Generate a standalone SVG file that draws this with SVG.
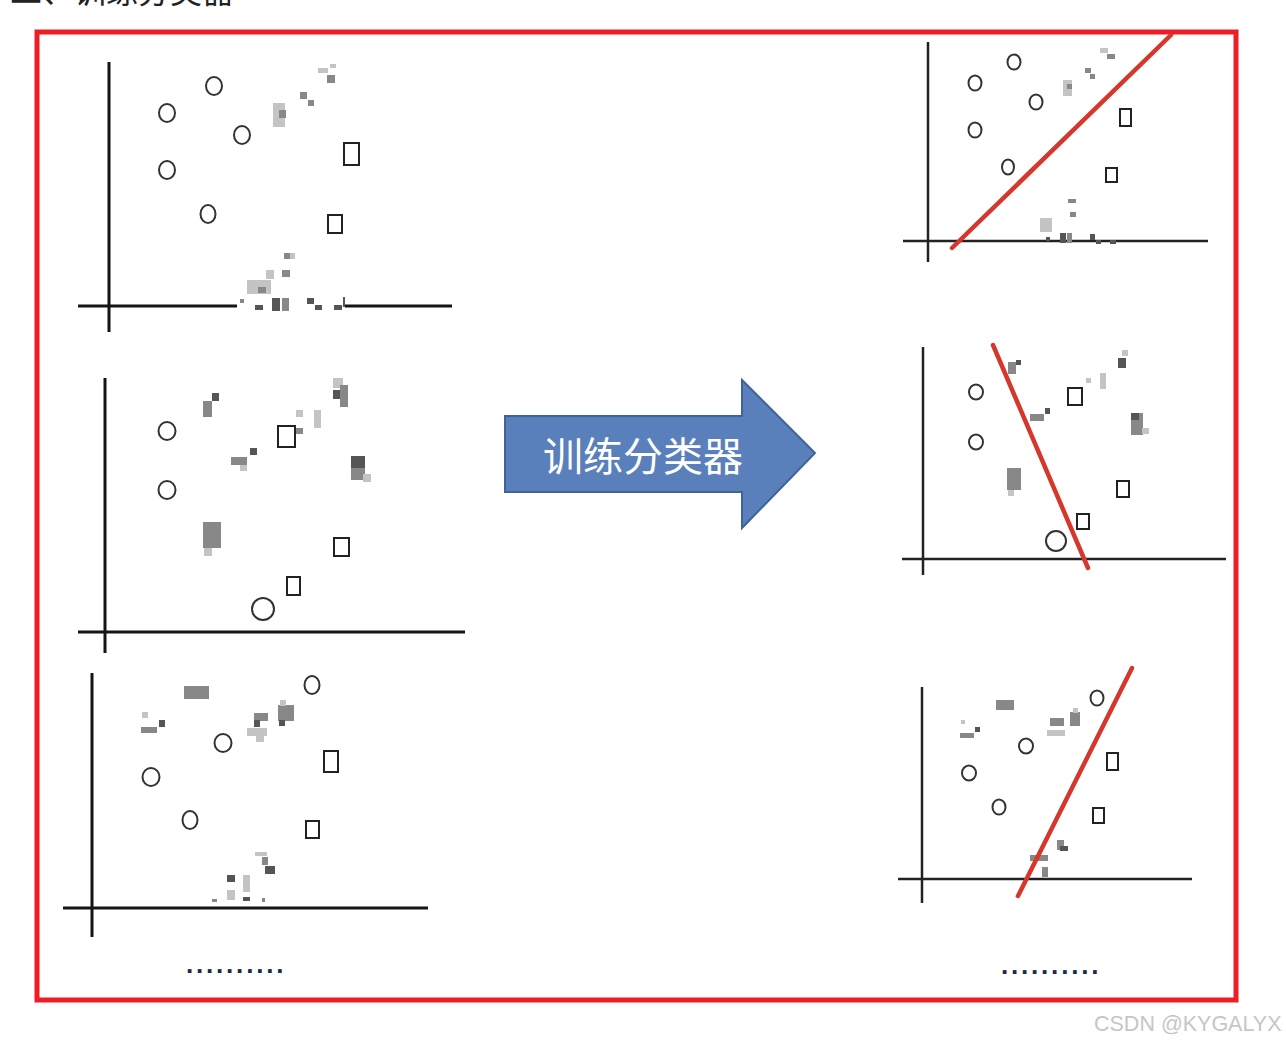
<svg xmlns="http://www.w3.org/2000/svg" width="1286" height="1044" viewBox="0 0 1286 1044">
<style>
.ax{stroke:#151515;stroke-width:3;fill:none}
.axr{stroke:#222;stroke-width:2.5;fill:none}
.c{fill:none;stroke:#333;stroke-width:2}
.s{fill:none;stroke:#222;stroke-width:2}
.d{fill:#555}
.m{fill:#888}
.l{fill:#c4c4c4}
.rl{stroke:#d6372c;stroke-width:4.5;stroke-linecap:round;fill:none}
.dots{font-family:"Liberation Sans",sans-serif;font-size:26px;font-weight:bold;fill:#1c2a4a;letter-spacing:2.8px}
</style>
<rect width="1286" height="1044" fill="#fff"/>
<text x="10" y="3" font-family="'Noto Sans CJK SC',sans-serif" font-size="32" fill="#222">二、训练分类器</text>
<rect id="frame" x="37" y="32" width="1199" height="968" fill="none" stroke="#ee1c25" stroke-width="5"/>

<g id="plot1">
<line class="ax" x1="109" y1="62" x2="109" y2="332"/>
<line class="ax" x1="78" y1="306" x2="237" y2="306"/>
<line class="ax" x1="345" y1="306" x2="452" y2="306"/>
<ellipse class="c" cx="167" cy="113" rx="8" ry="9"/>
<ellipse class="c" cx="214" cy="86" rx="8" ry="9"/>
<ellipse class="c" cx="242" cy="135" rx="8" ry="9"/>
<ellipse class="c" cx="167" cy="170" rx="8" ry="9"/>
<ellipse class="c" cx="208" cy="214" rx="7.5" ry="9"/>
<rect class="s" x="344" y="143" width="15" height="22"/>
<rect class="s" x="328" y="215" width="14" height="18"/>
<rect class="l" x="273" y="103" width="12" height="24"/>
<rect class="m" x="279" y="110" width="7" height="8"/>
<rect class="m" x="300" y="92" width="7" height="7"/>
<rect class="m" x="308" y="100" width="6" height="6"/>
<rect class="l" x="318" y="68" width="10" height="5"/>
<rect class="m" x="327" y="75" width="8" height="8"/>
<rect class="l" x="330" y="64" width="6" height="4"/>
<rect class="m" x="284" y="253" width="8" height="6"/>
<rect class="l" x="290" y="253" width="5" height="6"/>
<rect class="m" x="282" y="270" width="8" height="7"/>
<rect class="l" x="266" y="270" width="8" height="9"/>
<rect class="l" x="247" y="280" width="24" height="14"/>
<rect class="m" x="258" y="287" width="8" height="6"/>
<rect class="m" x="240" y="299" width="4" height="4"/>
<rect class="d" x="255" y="305" width="8" height="5"/>
<rect class="d" x="272" y="298" width="8" height="13"/>
<rect class="m" x="282" y="298" width="7" height="13"/>
<rect class="d" x="307" y="298" width="7" height="6"/>
<rect class="d" x="315" y="305" width="7" height="5"/>
<rect class="d" x="334" y="305" width="8" height="5"/>
<rect class="d" x="343" y="297" width="2" height="10"/>
</g>

<g id="plot2">
<line class="ax" x1="105" y1="378" x2="105" y2="653"/>
<line class="ax" x1="78" y1="632" x2="465" y2="632"/>
<ellipse class="c" cx="167" cy="431" rx="8.5" ry="9"/>
<ellipse class="c" cx="167" cy="490" rx="8.5" ry="9"/>
<circle class="c" cx="263" cy="609" r="11"/>
<rect class="s" x="278" y="426" width="17" height="21"/>
<rect class="s" x="334" y="538" width="15" height="18"/>
<rect class="s" x="287" y="577" width="13" height="18"/>
<rect class="m" x="203" y="401" width="9" height="16"/>
<rect class="d" x="212" y="393" width="7" height="8"/>
<rect class="m" x="231" y="457" width="16" height="8"/>
<rect class="l" x="240" y="465" width="7" height="6"/>
<rect class="d" x="250" y="448" width="7" height="7"/>
<rect class="l" x="296" y="410" width="7" height="7"/>
<rect class="m" x="296" y="428" width="7" height="6"/>
<rect class="l" x="314" y="410" width="7" height="18"/>
<rect class="l" x="333" y="378" width="10" height="10"/>
<rect class="d" x="333" y="390" width="10" height="9"/>
<rect class="m" x="340" y="385" width="8" height="22"/>
<rect class="d" x="351" y="456" width="14" height="12"/>
<rect class="m" x="351" y="468" width="14" height="12"/>
<rect class="l" x="363" y="474" width="8" height="8"/>
<rect class="m" x="203" y="522" width="18" height="26"/>
<rect class="l" x="204" y="548" width="8" height="8"/>
</g>

<g id="plot3">
<line class="ax" x1="92" y1="673" x2="92" y2="937"/>
<line class="ax" x1="63" y1="908" x2="428" y2="908"/>
<ellipse class="c" cx="312" cy="685" rx="7.5" ry="9"/>
<ellipse class="c" cx="223" cy="743" rx="8.5" ry="9"/>
<ellipse class="c" cx="151" cy="777" rx="8.5" ry="9"/>
<ellipse class="c" cx="190" cy="820" rx="7.5" ry="9"/>
<rect class="s" x="324" y="751" width="14" height="21"/>
<rect class="s" x="306" y="821" width="13" height="17"/>
<rect class="m" x="184" y="686" width="25" height="13"/>
<rect class="l" x="142" y="712" width="6" height="6"/>
<rect class="m" x="141" y="727" width="16" height="6"/>
<rect class="d" x="159" y="720" width="6" height="7"/>
<rect class="m" x="254" y="713" width="14" height="8"/>
<rect class="d" x="254" y="720" width="6" height="7"/>
<rect class="l" x="247" y="728" width="20" height="8"/>
<rect class="l" x="256" y="736" width="8" height="6"/>
<rect class="m" x="278" y="705" width="16" height="16"/>
<rect class="l" x="280" y="700" width="6" height="6"/>
<rect class="d" x="279" y="720" width="6" height="6"/>
<rect class="l" x="255" y="852" width="12" height="4"/>
<rect class="m" x="262" y="857" width="6" height="8"/>
<rect class="d" x="265" y="866" width="10" height="8"/>
<rect class="d" x="227" y="875" width="8" height="7"/>
<rect class="l" x="227" y="890" width="8" height="10"/>
<rect class="l" x="243" y="875" width="7" height="17"/>
<rect class="d" x="243" y="897" width="7" height="4"/>
<rect class="m" x="212" y="899" width="5" height="3"/>
<rect class="m" x="262" y="898" width="3" height="4"/>
<text class="dots" x="186" y="973">..........</text>
</g>

<g id="arrow">
<polygon points="505,416 742,416 742,380 815,453 742,528 742,492 505,492" fill="#5a80bb" stroke="#3f639a" stroke-width="2"/>
<text x="543" y="471" font-family="'Noto Sans CJK SC',sans-serif" font-size="40" fill="#ffffff">训练分类器</text>
</g>

<g id="plot4">
<line class="axr" x1="928" y1="42" x2="928" y2="262"/>
<line class="axr" x1="903" y1="241" x2="1208" y2="241"/>
<ellipse class="c" cx="1014" cy="62" rx="6.5" ry="7.5"/>
<ellipse class="c" cx="975" cy="83" rx="6.5" ry="7.5"/>
<ellipse class="c" cx="1036" cy="102" rx="6.5" ry="7.5"/>
<ellipse class="c" cx="975" cy="130" rx="6.5" ry="7.5"/>
<ellipse class="c" cx="1008" cy="167" rx="6" ry="7.5"/>
<rect class="s" x="1120" y="109" width="11" height="17"/>
<rect class="s" x="1106" y="168" width="11" height="14"/>
<rect class="l" x="1063" y="80" width="9" height="16"/>
<rect class="m" x="1067" y="84" width="5" height="5"/>
<rect class="m" x="1085" y="68" width="6" height="5"/>
<rect class="m" x="1090" y="74" width="5" height="5"/>
<rect class="l" x="1100" y="48" width="8" height="5"/>
<rect class="m" x="1107" y="54" width="8" height="5"/>
<rect class="m" x="1068" y="199" width="8" height="4"/>
<rect class="m" x="1070" y="212" width="6" height="5"/>
<rect class="l" x="1040" y="218" width="12" height="14"/>
<rect class="d" x="1046" y="237" width="4" height="4"/>
<rect class="d" x="1060" y="233" width="6" height="10"/>
<rect class="m" x="1067" y="233" width="5" height="10"/>
<rect class="d" x="1090" y="234" width="5" height="6"/>
<rect class="d" x="1096" y="240" width="5" height="4"/>
<rect class="d" x="1110" y="240" width="6" height="4"/>
<line class="rl" x1="952" y1="248" x2="1171" y2="35"/>
</g>

<g id="plot5">
<line class="axr" x1="923" y1="347" x2="923" y2="575"/>
<line class="axr" x1="902" y1="559" x2="1226" y2="559"/>
<ellipse class="c" cx="976" cy="392" rx="7" ry="7.5"/>
<ellipse class="c" cx="976" cy="442" rx="7" ry="7.5"/>
<circle class="c" cx="1056" cy="541" r="10"/>
<rect class="s" x="1068" y="388" width="14" height="17"/>
<rect class="s" x="1117" y="481" width="12" height="16"/>
<rect class="s" x="1077" y="514" width="12" height="15"/>
<rect class="m" x="1008" y="362" width="8" height="12"/>
<rect class="d" x="1016" y="360" width="5" height="5"/>
<rect class="m" x="1030" y="414" width="14" height="7"/>
<rect class="d" x="1045" y="408" width="5" height="6"/>
<rect class="m" x="1007" y="468" width="14" height="22"/>
<rect class="l" x="1008" y="490" width="6" height="6"/>
<rect class="l" x="1086" y="378" width="5" height="5"/>
<rect class="l" x="1100" y="373" width="6" height="16"/>
<rect class="d" x="1118" y="358" width="8" height="10"/>
<rect class="l" x="1122" y="350" width="6" height="6"/>
<rect class="m" x="1131" y="413" width="12" height="22"/>
<rect class="d" x="1131" y="413" width="8" height="7"/>
<rect class="l" x="1142" y="428" width="7" height="6"/>
<line class="rl" x1="993" y1="345" x2="1088" y2="568"/>
</g>

<g id="plot6">
<line class="axr" x1="922" y1="687" x2="922" y2="903"/>
<line class="axr" x1="898" y1="879" x2="1192" y2="879"/>
<ellipse class="c" cx="1097" cy="698" rx="6.5" ry="7.5"/>
<ellipse class="c" cx="1026" cy="746" rx="7" ry="7.5"/>
<ellipse class="c" cx="969" cy="773" rx="7" ry="7.5"/>
<ellipse class="c" cx="999" cy="807" rx="6.5" ry="7.5"/>
<rect class="s" x="1107" y="753" width="11" height="17"/>
<rect class="s" x="1093" y="808" width="11" height="15"/>
<rect class="m" x="996" y="700" width="18" height="10"/>
<rect class="l" x="961" y="720" width="4" height="4"/>
<rect class="m" x="960" y="733" width="14" height="5"/>
<rect class="d" x="975" y="727" width="5" height="5"/>
<rect class="m" x="1050" y="718" width="14" height="8"/>
<rect class="l" x="1047" y="730" width="18" height="6"/>
<rect class="m" x="1070" y="712" width="10" height="14"/>
<rect class="l" x="1073" y="708" width="5" height="5"/>
<rect class="m" x="1057" y="840" width="7" height="10"/>
<rect class="d" x="1060" y="846" width="8" height="5"/>
<rect class="m" x="1030" y="855" width="18" height="6"/>
<rect class="m" x="1042" y="867" width="6" height="10"/>
<line class="rl" x1="1018" y1="896" x2="1132" y2="668"/>
<text class="dots" x="1001" y="974">..........</text>
</g>

<text x="1094" y="1031" font-family="'Liberation Sans',sans-serif" font-size="21.5" fill="#c6c6c6">CSDN @KYGALYX</text>
</svg>
